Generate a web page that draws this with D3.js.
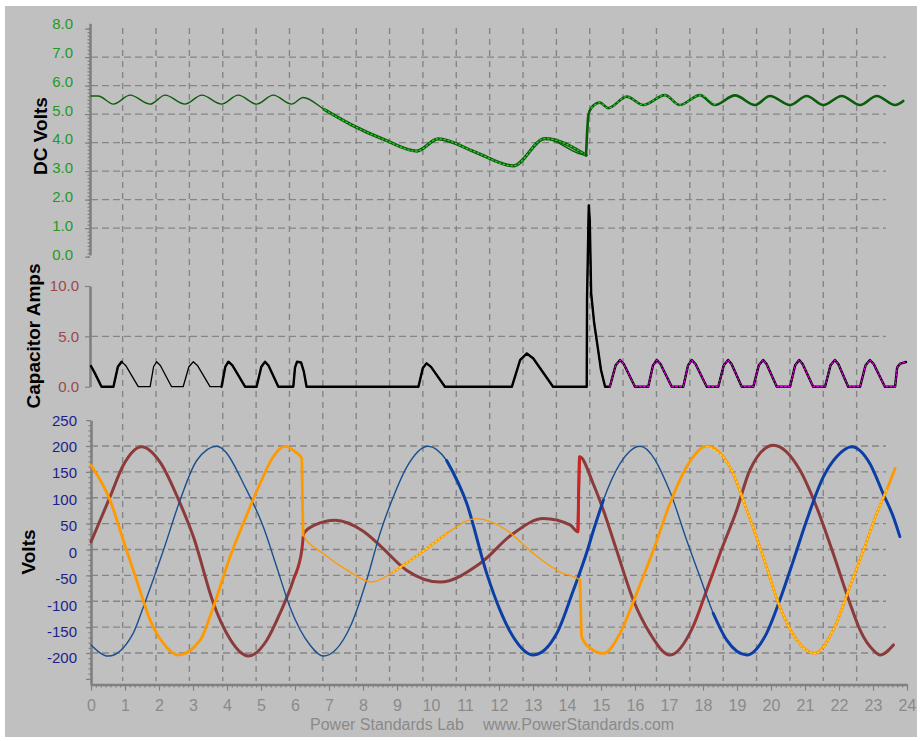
<!DOCTYPE html>
<html>
<head>
<meta charset="utf-8">
<script src="https://cdnjs.cloudflare.com/ajax/libs/d3/7.8.5/d3.min.js"></script>
<style>
  html, body { margin: 0; padding: 0; background: #fff; }
  svg { display: block; }
</style>
</head>
<body>
<div id="chart"></div>
<script>
// ---- tick labels ----
const timeLabels = [0, 1, 2, 3, 4, 5, 6, 7, 8, 9, 10, 11, 12, 13, 14, 15, 16, 17, 18, 19, 20, 21, 22, 23, 24];
const dcVoltLabels = [0, 1, 2, 3, 4, 5, 6, 7, 8];
const ampLabels = [0, 5, 10];
const voltLabels = [-200, -150, -100, -50, 0, 50, 100, 150, 200, 250];

// ---- series, [time, value] ----
const dcVolts = [
  [0.00, 5.49], [0.21, 5.49], [0.66, 5.21], [1.15, 5.52], [1.74, 5.21], [2.18, 5.52], [2.76, 5.21],
  [3.26, 5.52], [3.84, 5.21], [4.33, 5.52], [4.87, 5.21], [5.36, 5.52], [5.90, 5.21], [6.24, 5.44],
  [6.88, 5.01], [7.67, 4.49], [8.65, 3.97], [9.58, 3.59], [10.21, 4.01], [11.29, 3.56], [12.42, 3.08],
  [13.35, 4.02], [14.56, 3.45], [14.63, 4.83], [14.71, 5.07], [14.97, 5.26], [15.21, 5.07], [15.76, 5.47],
  [16.24, 5.18], [16.88, 5.52], [17.32, 5.18], [17.91, 5.52], [18.35, 5.18], [18.94, 5.51], [19.53, 5.18],
  [19.97, 5.49], [20.56, 5.18], [21.05, 5.49], [21.54, 5.18], [22.08, 5.49], [22.62, 5.18], [23.11, 5.49],
  [23.65, 5.18], [23.89, 5.32]
];

const capacitorAmps = [
  [0.00, 2.06], [0.12, 1.30], [0.31, 0],
  [0.66, 0], [0.79, 1.98], [0.90, 2.48], [1.02, 2.11], [1.39, 0],
  [1.74, 0], [1.84, 1.98], [1.93, 2.48], [2.04, 2.11], [2.37, 0],
  [2.71, 0], [2.88, 1.98], [3.01, 2.48], [3.13, 2.11], [3.50, 0],
  [3.84, 0], [3.95, 1.98], [4.04, 2.48], [4.16, 2.11], [4.53, 0],
  [4.87, 0], [5.01, 1.98], [5.12, 2.48], [5.22, 2.11], [5.51, 0],
  [5.95, 0], [6.00, 1.90], [6.06, 2.48], [6.18, 2.40], [6.26, 1.50], [6.34, 0],
  [9.63, 0], [9.76, 1.86], [9.87, 2.32], [10.00, 1.97], [10.41, 0],
  [12.38, 0], [12.62, 2.64], [12.82, 3.30], [13.01, 2.80], [13.59, 0],
  [14.58, 0], [14.59, 8.8], [14.64, 18.0], [14.67, 16.5], [14.71, 9.3], [14.80, 6.3], [14.90, 4.0],
  [15.00, 1.66], [15.12, 0],
  [15.26, 0], [15.43, 2.12], [15.56, 2.65], [15.67, 2.25], [16.00, 0],
  [16.39, 0], [16.53, 2.12], [16.64, 2.65], [16.75, 2.25], [17.08, 0],
  [17.42, 0], [17.56, 2.12], [17.67, 2.65], [17.78, 2.25], [18.11, 0],
  [18.45, 0], [18.61, 2.12], [18.74, 2.65], [18.84, 2.25], [19.14, 0],
  [19.48, 0], [19.64, 2.12], [19.77, 2.65], [19.87, 2.25], [20.17, 0],
  [20.56, 0], [20.71, 2.12], [20.83, 2.65], [20.93, 2.25], [21.24, 0],
  [21.59, 0], [21.75, 2.12], [21.88, 2.65], [21.98, 2.25], [22.27, 0],
  [22.62, 0], [22.78, 2.12], [22.91, 2.65], [23.02, 2.25], [23.35, 0],
  [23.65, 0], [23.71, 1.90], [23.80, 2.30], [23.97, 2.45]
];

// brown phase
const phaseA = [
  [0.00, 20], [0.56, 105], [0.95, 165], [1.49, 200], [2.03, 171], [2.62, 93], [3.01, 30], [3.60, -96],
  [3.99, -153], [4.63, -196], [5.17, -166], [5.56, -115], [5.95, -52], [6.20, 4], [6.26, 36], [6.59, 52],
  [7.18, 61], [8.01, 40], [8.50, 13], [9.29, -34], [10.26, -56], [11.44, -21], [12.42, 36], [13.30, 64],
  [14.09, 52], [14.32, 39], [14.34, 105], [14.37, 181], [14.77, 130], [15.07, 80], [15.46, 4], [15.95, -90],
  [16.44, -153], [17.03, -194], [17.71, -140], [18.11, -71], [18.50, -2], [18.99, 80], [19.38, 156],
  [20.07, 203], [20.85, 156], [21.34, 86], [21.83, -2], [22.32, -96], [22.62, -147], [23.01, -185],
  [23.21, -194], [23.60, -175]
];

// blue phase
const phaseB = [
  [0.00, -175], [0.51, -196], [1.24, -153], [1.54, -103], [2.13, 4], [2.62, 99], [3.11, 174], [3.70, 201],
  [4.58, 118], [5.07, 48], [5.46, -27], [5.85, -103], [6.44, -175], [6.83, -196], [7.62, -141], [8.11, -52],
  [8.50, 36], [8.89, 105], [9.29, 162], [9.92, 201], [10.46, 174], [11.05, 93], [11.64, -40], [12.03, -109],
  [12.42, -160], [13.01, -194], [13.70, -153], [14.19, -71], [14.58, 0], [14.77, 40], [15.07, 99],
  [15.56, 168], [16.15, 201], [17.03, 115], [17.52, 23], [17.91, -46], [18.30, -115], [18.70, -166],
  [19.29, -194], [19.87, -153], [20.26, -90], [20.66, -15], [21.05, 61], [21.54, 143], [21.93, 181],
  [22.37, 200], [22.91, 168], [23.30, 111], [23.60, 67], [23.79, 30]
];

// orange phase
const phaseC = [
  [0.00, 165], [0.56, 99], [0.95, 23], [1.34, -52], [1.74, -128], [2.13, -172], [2.57, -194], [3.21, -166],
  [3.60, -103], [4.09, -8], [4.48, 55], [4.97, 130], [5.36, 181], [5.71, 201], [5.95, 193], [6.20, 178],
  [6.22, 100], [6.24, 33], [6.83, -2], [7.52, -33], [8.26, -56], [8.89, -37], [9.68, -2], [10.46, 36],
  [11.34, 64], [12.23, 42], [13.01, -2], [13.79, -37], [14.38, -52], [14.41, -120], [14.43, -160],
  [14.68, -181], [15.07, -191], [15.56, -153], [16.05, -77], [16.54, 4], [17.03, 93], [17.52, 162],
  [18.11, 201], [18.79, 162], [19.29, 80], [19.77, -8], [20.26, -103], [20.76, -166], [21.29, -191],
  [21.83, -147], [22.32, -65], [22.72, 4], [23.11, 74], [23.40, 118], [23.65, 159]
];

const W = 922, H = 741;
const FONT = '"Liberation Sans", Arial, sans-serif';
const AXIS_GRAY = '#808080';

const svg = d3.select('#chart').append('svg')
  .attr('width', W)
  .attr('height', H);

svg.append('rect')
  .attr('x', 5).attr('y', 6)
  .attr('width', 912).attr('height', 731)
  .attr('fill', '#c0c0c0');

// scales: labels and grid were not drawn on quite the same pixel grid in the original
const x = d3.scaleLinear().domain([0, 24]).range([91, 907]);
const xGrid = d3.scaleLinear().domain([0, 24]).range([89.3, 890]);
const yDc = d3.scaleLinear().domain([0, 8]).range([255, 23.3]);
const yDcGrid = d3.scaleLinear().domain([0, 8]).range([256.6, 28.6]);
const yAmp = d3.scaleLinear().domain([0, 10]).range([386.7, 286]);
const yVolt = d3.scaleLinear().domain([-250, 250]).range([684.6, 420.3]);
const yVoltGrid = d3.scaleLinear().domain([-250, 250]).range([678.9, 420.1]);

// ---- dashed grid ----
const grid = svg.append('g')
  .attr('stroke', '#858585')
  .attr('stroke-width', 1.4)
  .attr('fill', 'none');

grid.selectAll('.vgrid')
  .data(timeLabels.filter(d => d > 0 && d < 24))
  .join('line')
  .attr('class', 'vgrid')
  .attr('x1', d => xGrid(d)).attr('x2', d => xGrid(d))
  .attr('y1', 28).attr('y2', 681)
  .attr('stroke-dasharray', '6,5');

const hLines = []
  .concat(dcVoltLabels.filter(d => d > 0 && d < 8).map(d => yDcGrid(d)))
  .concat([yAmp(5)])
  .concat(voltLabels.filter(d => d < 250).map(d => yVoltGrid(d)));

grid.selectAll('.hgrid')
  .data(hLines)
  .join('line')
  .attr('class', 'hgrid')
  .attr('x1', 91).attr('x2', 886)
  .attr('y1', d => d).attr('y2', d => d)
  .attr('stroke-dasharray', '7,4');

// ---- axes ----
function styleAxis(g, color, size) {
  g.attr('font-family', FONT).attr('font-size', size);
  g.select('.domain').attr('stroke', AXIS_GRAY).attr('stroke-width', 2.6);
  g.selectAll('.tick line').attr('stroke', AXIS_GRAY).attr('stroke-width', 1.2);
  g.selectAll('.tick text').attr('fill', color);
}
function tickMarks(axis, at) {
  const g = svg.append('g').attr('transform', at).call(axis.tickFormat(''));
  g.select('.domain').remove();
  g.selectAll('.tick line').attr('stroke', AXIS_GRAY).attr('stroke-width', 1.2);
}

// DC volts
styleAxis(svg.append('g')
  .attr('transform', 'translate(90,0)')
  .call(d3.axisLeft(yDc).tickValues(dcVoltLabels).tickFormat(d3.format('.1f'))
    .tickSize(0).tickSizeOuter(0).tickPadding(17)), '#239a23', 15);
tickMarks(d3.axisLeft(yDcGrid).tickValues(dcVoltLabels).tickSize(5).tickSizeOuter(0), 'translate(90,0)');
tickMarks(d3.axisLeft(yDcGrid).tickValues(d3.range(0, 8.001, 0.125)).tickSize(2.5).tickSizeOuter(0), 'translate(90,0)');

// capacitor amps
styleAxis(svg.append('g')
  .attr('transform', 'translate(90,0)')
  .call(d3.axisLeft(yAmp).tickValues(ampLabels).tickFormat(d3.format('.1f'))
    .tickSize(5).tickSizeOuter(0).tickPadding(6)), '#9c4848', 15);

// volts
styleAxis(svg.append('g')
  .attr('transform', 'translate(91,0)')
  .call(d3.axisLeft(yVolt).tickValues(voltLabels).tickFormat(d => String(d))
    .tickSize(0).tickSizeOuter(0).tickPadding(14)), '#1e1e8c', 15);
tickMarks(d3.axisLeft(yVoltGrid).tickValues(d3.range(-250, 251, 50)).tickSize(5).tickSizeOuter(0), 'translate(91,0)');
tickMarks(d3.axisLeft(yVoltGrid).tickValues(d3.range(-250, 251, 10)).tickSize(2.5).tickSizeOuter(0), 'translate(91,0)');

// time
styleAxis(svg.append('g')
  .attr('transform', 'translate(0,684.5)')
  .call(d3.axisBottom(x).tickValues(timeLabels).tickSize(6).tickSizeOuter(0).tickPadding(9.5)), '#8a8a8a', 16);
tickMarks(d3.axisBottom(x).tickValues(d3.range(0, 24.001, 1 / 7)).tickSize(3).tickSizeOuter(0), 'translate(0,684.5)');

// axis titles
const titles = [
  { text: 'DC Volts', x: 47, y: 136 },
  { text: 'Capacitor Amps', x: 39.5, y: 336 },
  { text: 'Volts', x: 35, y: 552 }
];
svg.selectAll('.ytitle')
  .data(titles)
  .join('text')
  .attr('class', 'ytitle')
  .attr('transform', d => `translate(${d.x},${d.y}) rotate(-90)`)
  .attr('text-anchor', 'middle')
  .attr('font-family', FONT)
  .attr('font-size', 19)
  .attr('font-weight', 'bold')
  .attr('fill', '#000')
  .text(d => d.text);

// footer
svg.append('text')
  .attr('x', 310).attr('y', 730)
  .attr('font-family', FONT).attr('font-size', 16).attr('fill', '#8a8a8a')
  .text('Power Standards Lab');
svg.append('text')
  .attr('x', 483).attr('y', 730)
  .attr('font-family', FONT).attr('font-size', 16).attr('fill', '#8a8a8a')
  .text('www.PowerStandards.com');

// ---- traces ----
const plot = svg.append('g').attr('fill', 'none')
  .attr('stroke-linejoin', 'round').attr('stroke-linecap', 'round');

// draw a series, optionally only the part inside one time window
function trace(data, yScale, o) {
  const line = d3.line()
    .x(d => x(d[0]))
    .y(d => yScale(d[1]))
    .curve(o.curve || d3.curveMonotoneX);
  if (o.win) line.defined(d => d[0] >= o.win[0] && d[0] <= o.win[1]);
  plot.append('path')
    .datum(data)
    .attr('d', line)
    .attr('stroke', o.color)
    .attr('stroke-width', o.width)
    .attr('stroke-dasharray', o.dash || null);
}

// DC volts: thin ripple, heavy speckled trace during the sag
trace(dcVolts, yDc, { color: '#0a5e0a', width: 1.4 });
trace(dcVolts, yDc, { color: '#0a5e0a', width: 3.2, win: [6.3, 14.6] });
trace(dcVolts, yDc, { color: '#2fcf2f', width: 1.3, dash: '1.5,2.5', win: [6.6, 14.6] });
trace(dcVolts, yDc, { color: '#0a5e0a', width: 2.6, win: [14.56, 24] });
trace(dcVolts, yDc, { color: '#2fcf2f', width: 1.1, dash: '1.5,3', win: [14.7, 18.6] });

// capacitor amps
trace(capacitorAmps, yAmp, { color: '#000', width: 1.3, curve: d3.curveLinear });
trace(capacitorAmps, yAmp, { color: '#000', width: 2.4, curve: d3.curveLinear, win: [0, 0.95] });
trace(capacitorAmps, yAmp, { color: '#000', width: 2.4, curve: d3.curveLinear, win: [3.6, 24] });
trace(capacitorAmps, yAmp, { color: '#e000e0', width: 1.2, dash: '2,2', curve: d3.curveLinear, win: [15.2, 24] });

// brown phase
trace(phaseA, yVolt, { color: '#8c3b3b', width: 3 });
trace(phaseA, yVolt, { color: '#d42020', width: 1.4, dash: '2,2', win: [5.7, 6.26] });
trace(phaseA, yVolt, { color: '#d42020', width: 2.6, win: [14.3, 14.4] });
trace(phaseA, yVolt, { color: '#d42020', width: 1.4, dash: '2,3', win: [17.3, 18.6] });

// blue phase
trace(phaseB, yVolt, { color: '#1a4f90', width: 1.4 });
trace(phaseB, yVolt, { color: '#0b3fa6', width: 3, win: [10.4, 15.2] });
trace(phaseB, yVolt, { color: '#0b3fa6', width: 3, win: [18.3, 24] });

// orange phase
trace(phaseC, yVolt, { color: '#ff9900', width: 1.4 });
trace(phaseC, yVolt, { color: '#ff9900', width: 2.8, win: [0, 6.24] });
trace(phaseC, yVolt, { color: '#ff9900', width: 2.6, win: [8.3, 11.0] });
trace(phaseC, yVolt, { color: '#ffdd33', width: 1.1, dash: '1.5,2.5', win: [8.5, 11.0] });
trace(phaseC, yVolt, { color: '#ff9900', width: 2.8, win: [14.38, 24] });
trace(phaseC, yVolt, { color: '#ffdd33', width: 1.1, dash: '1.5,2.5', win: [17.6, 23.6] });
</script>
</body>
</html>
